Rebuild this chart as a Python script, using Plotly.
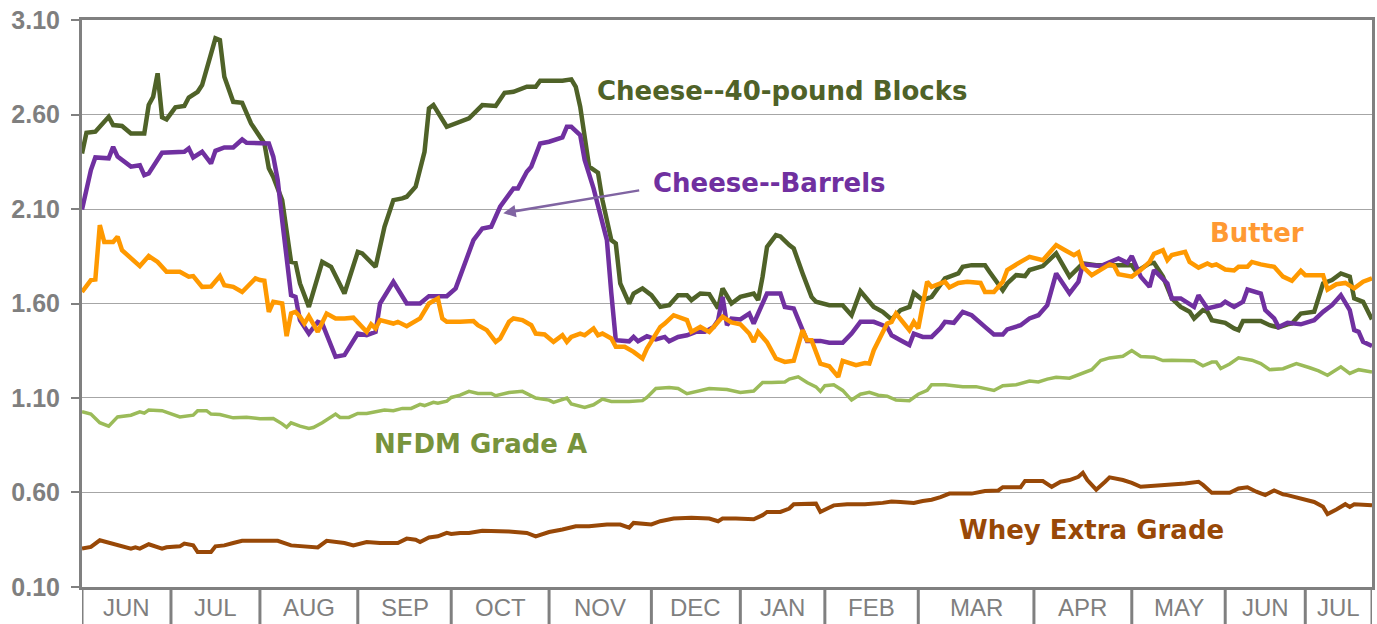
import plotly.graph_objects as go
import numpy as np

# ---------------- data ----------------
months = ["JUN", "JUL", "AUG", "SEP", "OCT", "NOV", "DEC", "JAN", "FEB", "MAR", "APR", "MAY", "JUN", "JUL"]
month_days = [20, 20, 22, 21, 22, 23, 20, 19, 21, 26, 22, 21, 18, 15]

y_ticks = [0.10, 0.60, 1.10, 1.60, 2.10, 2.60, 3.10]

blocks_day = [0, 1, 3, 6, 7, 9, 11, 14, 15, 16, 17, 18, 19, 21, 23, 24, 26, 27, 30, 31, 32, 34, 36, 38, 41, 42, 43, 45, 47, 48,
              49, 51, 54, 56, 59, 62, 63, 66, 68, 70, 72, 73, 75, 76, 77, 78, 79, 82, 85, 87, 90, 93, 95, 97, 100, 102, 103, 108, 110, 111,
              112, 113, 114, 116, 117, 119, 120, 121, 123, 124, 126, 128, 130, 132, 134, 136, 137, 139, 141, 143, 144, 146, 148, 151, 152, 153, 154, 156, 157, 159,
              160, 162, 164, 165, 168, 171, 173, 175, 178, 180, 182, 184, 186, 187, 189, 191, 194, 197, 198, 200, 203, 204, 207, 208, 210, 212, 213, 216, 217, 219,
              222, 225, 228, 236, 237, 240, 241, 243, 245, 247, 249, 250, 252, 253, 254, 257, 259, 260, 261, 265, 267, 269, 271, 272, 274, 277, 279, 281, 283, 285,
              286, 288, 290]
blocks_price = [2.394, 2.503, 2.509, 2.588, 2.544, 2.539, 2.50, 2.50, 2.65, 2.694, 2.818, 2.585, 2.574, 2.638, 2.645, 2.69, 2.72, 2.756, 3.003, 2.994, 2.80, 2.667, 2.662, 2.553, 2.447, 2.315, 2.27, 2.147, 1.82, 1.815,
                1.706, 1.582, 1.82, 1.794, 1.653, 1.873, 1.865, 1.794, 2.006, 2.147, 2.156, 2.165, 2.218, 2.324, 2.403, 2.632, 2.65, 2.535, 2.562, 2.58, 2.65, 2.645, 2.715, 2.72, 2.747, 2.747, 2.779, 2.779, 2.786, 2.747,
                2.641, 2.50, 2.324, 2.292, 2.147, 1.935, 1.918, 1.706, 1.60, 1.653, 1.68, 1.644, 1.582, 1.591, 1.644, 1.644, 1.618, 1.653, 1.65, 1.574, 1.68, 1.60, 1.635, 1.653, 1.618, 1.742, 1.90, 1.962, 1.955, 1.909,
                1.891, 1.759, 1.635, 1.609, 1.591, 1.591, 1.538, 1.665, 1.582, 1.556, 1.516, 1.565, 1.582, 1.656, 1.618, 1.635, 1.733, 1.759, 1.794, 1.803, 1.803, 1.768, 1.67, 1.706, 1.75, 1.745, 1.777, 1.798, 1.82, 1.865,
                1.742, 1.812, 1.803, 1.803, 1.768, 1.812, 1.815, 1.742, 1.627, 1.582, 1.556, 1.521, 1.565, 1.556, 1.512, 1.498, 1.468, 1.459, 1.507, 1.507, 1.485, 1.473, 1.49, 1.494, 1.547, 1.556, 1.706, 1.724, 1.759, 1.742,
                1.627, 1.609, 1.516]

barrels_day = [0, 2, 3, 6, 7, 8, 11, 13, 14, 15, 18, 23, 24, 25, 27, 29, 30, 32, 34, 36, 37, 42, 43, 44, 45, 47, 48, 49, 51, 53,
               54, 55, 57, 59, 60, 62, 64, 66, 67, 70, 73, 76, 78, 82, 84, 86, 88, 90, 92, 94, 97, 98, 100, 101, 103, 105, 108, 109, 110, 112,
               113, 115, 116, 118, 119, 120, 123, 124, 125, 127, 129, 131, 132, 134, 136, 138, 140, 142, 143, 144, 145, 146, 148, 150, 151, 154, 157, 158, 160, 162,
               163, 166, 168, 171, 173, 175, 178, 181, 182, 184, 186, 187, 189, 191, 193, 194, 196, 198, 200, 203, 205, 207, 208, 211, 213, 215, 217, 219, 222, 224,
               225, 229, 231, 233, 235, 236, 238, 240, 241, 244, 245, 247, 250, 251, 253, 256, 257, 259, 261, 262, 265, 266, 268, 269, 271, 274, 277, 279, 281, 283,
               285, 286, 287, 288, 290]
barrels_price = [2.098, 2.306, 2.373, 2.368, 2.429, 2.377, 2.324, 2.332, 2.279, 2.288, 2.398, 2.403, 2.421, 2.373, 2.403, 2.341, 2.408, 2.426, 2.426, 2.468, 2.45, 2.447, 2.377, 2.253, 2.041, 1.644, 1.635, 1.512, 1.441, 1.503,
                 1.494, 1.432, 1.318, 1.327, 1.362, 1.441, 1.432, 1.45, 1.60, 1.715, 1.60, 1.60, 1.639, 1.639, 1.68, 1.803, 1.935, 1.997, 2.006, 2.112, 2.209, 2.209, 2.297, 2.324, 2.447, 2.456, 2.479, 2.535, 2.535, 2.491,
                 2.359, 2.209, 2.112, 1.935, 1.653, 1.406, 1.40, 1.423, 1.40, 1.427, 1.41, 1.423, 1.40, 1.423, 1.432, 1.45, 1.45, 1.476, 1.512, 1.635, 1.485, 1.52, 1.516, 1.547, 1.494, 1.653, 1.653, 1.582, 1.574, 1.459,
                 1.402, 1.402, 1.392, 1.392, 1.441, 1.503, 1.503, 1.476, 1.432, 1.406, 1.38, 1.441, 1.423, 1.423, 1.47, 1.503, 1.498, 1.556, 1.538, 1.476, 1.436, 1.436, 1.463, 1.485, 1.521, 1.538, 1.591, 1.759, 1.653, 1.715,
                 1.807, 1.798, 1.82, 1.838, 1.815, 1.851, 1.742, 1.688, 1.777, 1.706, 1.627, 1.627, 1.582, 1.644, 1.574, 1.591, 1.609, 1.582, 1.609, 1.674, 1.653, 1.565, 1.521, 1.476, 1.498, 1.49, 1.512, 1.556, 1.591, 1.644,
                 1.565, 1.459, 1.45, 1.397, 1.375]

butter_day = [0, 2, 3, 4, 5, 7, 8, 9, 13, 15, 17, 19, 22, 24, 25, 27, 29, 31, 32, 34, 36, 39, 40, 41, 42, 43, 45, 46, 47, 48,
              49, 50, 51, 53, 55, 57, 59, 61, 64, 65, 66, 67, 70, 71, 73, 76, 78, 80, 81, 82, 85, 88, 89, 91, 93, 94, 96, 97, 99, 101,
              102, 104, 106, 108, 109, 110, 112, 113, 115, 116, 117, 119, 120, 122, 124, 126, 127, 128, 130, 131, 133, 136, 137, 139, 141, 142, 144, 146, 148, 150,
              151, 152, 154, 156, 158, 160, 162, 163, 164, 166, 168, 170, 171, 174, 176, 177, 178, 181, 182, 183, 185, 186, 187, 188, 190, 191, 193, 194, 195, 197,
              199, 202, 203, 205, 207, 208, 211, 213, 216, 219, 221, 223, 224, 225, 227, 229, 231, 232, 233, 236, 238, 240, 241, 243, 244, 245, 248, 249, 251, 253,
              254, 255, 257, 259, 260, 262, 263, 265, 268, 270, 272, 274, 275, 279, 280, 282, 284, 286, 288, 290]
butter_price = [1.661, 1.724, 1.727, 2.015, 1.926, 1.926, 1.953, 1.882, 1.798, 1.851, 1.82, 1.768, 1.768, 1.742, 1.745, 1.688, 1.69, 1.745, 1.697, 1.688, 1.661, 1.733, 1.724, 1.72, 1.556, 1.609, 1.60, 1.427, 1.547, 1.556,
                1.53, 1.494, 1.533, 1.45, 1.547, 1.521, 1.521, 1.525, 1.45, 1.49, 1.468, 1.512, 1.494, 1.503, 1.48, 1.521, 1.60, 1.627, 1.521, 1.503, 1.503, 1.507, 1.485, 1.459, 1.397, 1.415, 1.503, 1.521, 1.512, 1.485,
                1.441, 1.436, 1.397, 1.432, 1.397, 1.423, 1.441, 1.432, 1.468, 1.432, 1.441, 1.415, 1.371, 1.371, 1.344, 1.309, 1.362, 1.397, 1.476, 1.494, 1.538, 1.512, 1.45, 1.476, 1.45, 1.476, 1.53, 1.50, 1.49, 1.441,
                1.397, 1.45, 1.395, 1.309, 1.291, 1.297, 1.459, 1.406, 1.406, 1.282, 1.268, 1.212, 1.297, 1.274, 1.285, 1.282, 1.353, 1.494, 1.503, 1.547, 1.494, 1.459, 1.503, 1.468, 1.715, 1.688, 1.706, 1.715, 1.685, 1.709,
                1.715, 1.709, 1.661, 1.661, 1.715, 1.777, 1.82, 1.847, 1.829, 1.909, 1.882, 1.856, 1.87, 1.794, 1.75, 1.777, 1.807, 1.80, 1.755, 1.742, 1.777, 1.82, 1.863, 1.882, 1.829, 1.856, 1.873, 1.82, 1.79, 1.812,
                1.80, 1.807, 1.78, 1.775, 1.794, 1.794, 1.82, 1.807, 1.794, 1.742, 1.72, 1.773, 1.75, 1.75, 1.674, 1.702, 1.709, 1.68, 1.715, 1.733]

nfdm_day = [0, 2, 4, 6, 8, 11, 13, 14, 15, 18, 22, 25, 26, 28, 29, 31, 34, 37, 40, 43, 45, 46, 47, 49, 51, 52, 54, 57, 58, 60,
            62, 64, 68, 70, 72, 74, 76, 77, 79, 80, 82, 83, 85, 87, 89, 92, 93, 96, 99, 102, 105, 106, 109, 110, 113, 115, 117, 119, 123, 126,
            127, 129, 132, 134, 136, 138, 141, 145, 148, 151, 153, 155, 158, 159, 161, 163, 165, 166, 167, 169, 171, 173, 175, 177, 179, 181, 183, 186, 188, 190,
            191, 194, 198, 201, 205, 207, 210, 213, 215, 217, 219, 222, 224, 226, 227, 229, 231, 234, 236, 238, 241, 243, 245, 250, 252, 254, 255, 256, 258, 260,
            263, 265, 267, 270, 273, 276, 278, 280, 283, 285, 287, 290]
nfdm_price = [1.027, 1.015, 0.969, 0.951, 1.00, 1.009, 1.027, 1.02, 1.036, 1.033, 1.00, 1.009, 1.033, 1.033, 1.015, 1.013, 0.995, 0.998, 0.99, 0.992, 0.963, 0.945, 0.969, 0.951, 0.939, 0.944, 0.969, 1.015, 0.997, 0.997,
              1.018, 1.018, 1.036, 1.033, 1.045, 1.045, 1.066, 1.06, 1.077, 1.072, 1.083, 1.103, 1.115, 1.135, 1.124, 1.124, 1.112, 1.129, 1.135, 1.10, 1.089, 1.077, 1.10, 1.068, 1.05, 1.064, 1.094, 1.082, 1.082, 1.086,
              1.103, 1.15, 1.155, 1.15, 1.123, 1.135, 1.15, 1.145, 1.129, 1.137, 1.182, 1.182, 1.185, 1.20, 1.212, 1.182, 1.159, 1.135, 1.165, 1.17, 1.14, 1.089, 1.12, 1.13, 1.115, 1.11, 1.089, 1.086, 1.12, 1.14,
              1.17, 1.17, 1.159, 1.16, 1.14, 1.165, 1.17, 1.19, 1.185, 1.20, 1.21, 1.205, 1.224, 1.241, 1.25, 1.298, 1.312, 1.321, 1.351, 1.32, 1.316, 1.298, 1.30, 1.297, 1.27, 1.29, 1.29, 1.256, 1.28, 1.313,
              1.30, 1.282, 1.25, 1.255, 1.282, 1.26, 1.243, 1.22, 1.265, 1.23, 1.25, 1.238]

whey_day = [0, 2, 4, 7, 9, 11, 12, 13, 15, 18, 19, 22, 23, 25, 26, 29, 30, 32, 34, 36, 40, 44, 47, 50, 52, 53, 55, 59, 61, 64,
            67, 71, 73, 75, 76, 78, 80, 82, 83, 85, 87, 90, 96, 100, 102, 105, 108, 111, 114, 118, 121, 123, 124, 128, 130, 133, 137, 141, 143, 144,
            147, 151, 153, 154, 157, 159, 160, 163, 165, 166, 169, 172, 176, 180, 182, 184, 187, 189, 191, 193, 195, 200, 203, 206, 207, 211, 212, 216, 218, 220,
            222, 224, 225, 226, 228, 230, 231, 234, 236, 238, 241, 244, 248, 251, 252, 254, 258, 260, 262, 264, 266, 268, 270, 271, 274, 277, 279, 280, 282, 284,
            285, 286, 290]
whey_price = [0.303, 0.312, 0.347, 0.326, 0.315, 0.303, 0.31, 0.303, 0.326, 0.303, 0.31, 0.315, 0.33, 0.32, 0.285, 0.285, 0.315, 0.32, 0.333, 0.344, 0.344, 0.344, 0.32, 0.315, 0.309, 0.309, 0.344, 0.333, 0.32, 0.338,
              0.333, 0.333, 0.356, 0.35, 0.338, 0.362, 0.368, 0.386, 0.38, 0.386, 0.386, 0.397, 0.393, 0.386, 0.368, 0.391, 0.404, 0.421, 0.421, 0.431, 0.43, 0.414, 0.439, 0.431, 0.448, 0.462, 0.466, 0.462, 0.448, 0.462,
              0.462, 0.458, 0.48, 0.497, 0.497, 0.515, 0.538, 0.541, 0.541, 0.497, 0.532, 0.538, 0.538, 0.545, 0.552, 0.55, 0.545, 0.555, 0.562, 0.575, 0.594, 0.594, 0.608, 0.611, 0.628, 0.628, 0.661, 0.661, 0.63, 0.657,
              0.666, 0.683, 0.704, 0.666, 0.615, 0.657, 0.68, 0.666, 0.651, 0.63, 0.634, 0.64, 0.648, 0.657, 0.64, 0.598, 0.598, 0.621, 0.628, 0.604, 0.586, 0.611, 0.59, 0.586, 0.568, 0.55, 0.524, 0.486, 0.51, 0.538,
              0.524, 0.538, 0.532]

# ---------------- figure ----------------
bounds = np.concatenate([[0], np.cumsum(month_days)])
x_end = float(bounds[-1])

label_font = "DejaVu Sans, sans-serif"

series = [
    ("NFDM Grade A", nfdm_day, nfdm_price, "#9bbb59", 3.5),
    ("Whey Extra Grade", whey_day, whey_price, "#984807", 4),
    ("Cheese--40-pound Blocks", blocks_day, blocks_price, "#4f6228", 4.5),
    ("Cheese--Barrels", barrels_day, barrels_price, "#7030a0", 4.5),
    ("Butter", butter_day, butter_price, "#ff9900", 4.5),
]

fig = go.Figure()
for name, d, p, c, w in series:
    fig.add_trace(go.Scatter(x=d, y=p, mode="lines", name=name,
                             line=dict(color=c, width=w), showlegend=False,
                             hoverinfo="skip"))

shapes = []
for b in bounds:
    shapes.append(dict(type="line", xref="x", yref="paper", x0=float(b), x1=float(b),
                       y0=0, y1=-0.07, line=dict(color="#808080", width=3)))

annotations = []
for i, m in enumerate(months):
    annotations.append(dict(x=float(bounds[i] + bounds[i + 1]) / 2, y=-0.037, xref="x", yref="paper",
                            text=m, showarrow=False, yanchor="middle",
                            font=dict(family="Liberation Sans", size=24, color="#7f7f7f")))

labels = [
    ("Cheese--40-pound Blocks", 157.3, 2.724, "#4f6228"),
    ("Cheese--Barrels", 154.6, 2.237, "#7030a0"),
    ("Butter", 264.2, 1.972, "#ff9933"),
    ("NFDM Grade A", 89.6, 0.855, "#77933c"),
    ("Whey Extra Grade", 227.0, 0.40, "#984807"),
]
for text, x, y, c in labels:
    annotations.append(dict(x=x, y=y, xref="x", yref="y", text=text, showarrow=False,
                            xanchor="center", yanchor="middle",
                            font=dict(family=label_font, size=26, color=c, weight="bold")))

# arrow pointing to the barrels line
annotations.append(dict(x=94.7, y=2.078, ax=125.6, ay=2.20, xref="x", yref="y",
                        axref="x", ayref="y", text="", showarrow=True,
                        arrowhead=2, arrowsize=1, arrowwidth=2.5, arrowcolor="#8064a2"))

fig.update_layout(
    width=1377, height=624,
    margin=dict(l=82, r=5, t=20, b=37, autoexpand=False),
    paper_bgcolor="white", plot_bgcolor="white",
    shapes=shapes, annotations=annotations,
    xaxis=dict(range=[0, x_end], showgrid=False, zeroline=False, showticklabels=False,
               automargin=False,
               ticks="", showline=True, linecolor="#808080", linewidth=3, mirror=True),
    yaxis=dict(range=[0.0999, 3.1001], tickvals=y_ticks, tickformat=".2f",
               automargin=False,
               showgrid=True, gridcolor="#a6a6a6", gridwidth=1, zeroline=False,
               showline=True, linecolor="#808080", linewidth=3, mirror=True,
               ticks="outside", ticklen=8, tickwidth=2, tickcolor="#808080",
               ticklabelstandoff=6,
               tickfont=dict(family="Liberation Sans", size=25, color="#7f7f7f", weight="bold")),
)

fig.write_html("out.html", config={"displayModeBar": False},
               post_script="document.body.style.margin='0';document.body.style.overflow='hidden';")
